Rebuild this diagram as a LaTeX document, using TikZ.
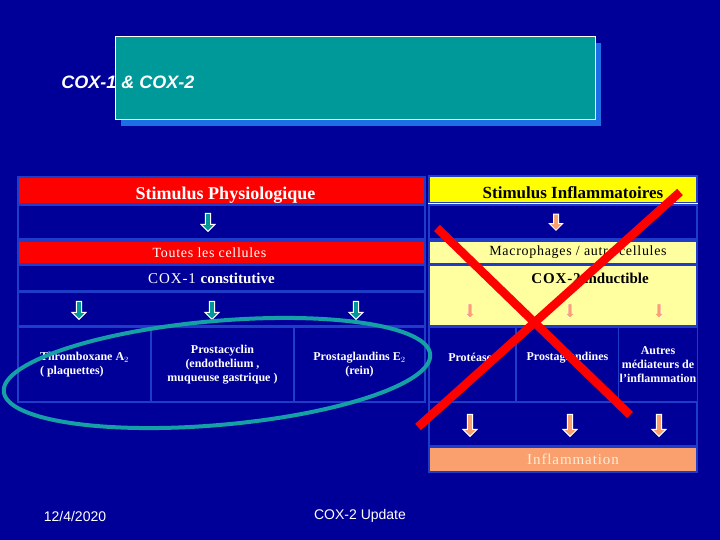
\documentclass[tikz,border=0pt]{standalone}
\usepackage{fontspec}
\setmainfont{Liberation Serif}
\setsansfont{Liberation Sans}
\usepackage{tikz}
\usetikzlibrary{positioning,shapes.arrows,shapes.geometric}
\definecolor{fond}{RGB}{0,0,153}
\definecolor{cadre}{RGB}{30,60,200}
\definecolor{rouge}{RGB}{255,0,0}
\definecolor{jaune}{RGB}{255,255,0}
\definecolor{jaunepale}{RGB}{255,255,160}
\definecolor{saumon}{RGB}{250,160,110}
\definecolor{sarcelle}{RGB}{0,153,153}
\definecolor{ombre}{RGB}{30,110,230}
\definecolor{anneau}{RGB}{20,160,165}
\definecolor{peche}{RGB}{255,235,215}

\begin{document}
\begin{tikzpicture}[
    x=1pt, y=-1pt,
    font=\normalfont,
    case/.style={
		rectangle,
		draw=cadre,
		line width=1.5pt,
		inner sep=1pt,
		align=center,
		fill=fond,
		text=white
	},
	bandrouge/.style={
		case,
		fill=rouge,
		text=white
	},
	bandjaune/.style={
		case,
		fill=jaunepale,
		text=black
	},
	cellule/.style={
		case,
		minimum height=75pt,
		font=\fontsize{12}{14}\selectfont\bfseries
	},
	fleche/.style={
		single arrow,
		shape border rotate=270,
		draw=white,
		line width=1pt,
		fill=sarcelle,
		inner sep=2pt,
		minimum height=18pt,
		minimum width=14pt,
		single arrow head extend=4pt
	},
	flecherose/.style={
		fleche,
		fill=saumon
	},
	petitefleche/.style={
		fleche,
		fill=saumon,
		line width=0.4pt,
		inner sep=1.5pt,
		minimum height=14pt,
		minimum width=9pt,
		single arrow head extend=2.5pt
	},
	croix/.style={
		draw=rouge,
		line width=8.5pt
	},
	pied/.style={
		font=\sffamily\fontsize{14}{16}\selectfont,
		text=white
	}
  ]

% // background
\fill[fond] (0,0) rectangle (720,540);
\useasboundingbox (0,0) rectangle (720,540);

% // title
\fill[ombre] (121,43) rectangle (601,126);
\node [rectangle, draw=white, line width=1pt, fill=sarcelle,
minimum width=480pt, minimum height=83pt] (boite) at (355,78.5) {};
\node [text=white, font=\sffamily\bfseries\itshape\fontsize{18}{20}\selectfont] (titre) at (128,82) {COX-1 \& COX-2};

% // COX-1 side
\node [bandrouge, minimum width=407pt, minimum height=27pt,
font=\fontsize{18}{20}\selectfont\bfseries] (stimP) at (221.5,190.5)
{\hspace*{8pt}\raisebox{-5pt}[\height][\depth]{Stimulus Physiologique}};
\node [case, minimum width=407pt, minimum height=34pt] (passeP) at (221.5,222) {};
\node [bandrouge, minimum width=407pt, minimum height=23pt,
font=\fontsize{14}{16}\selectfont\addfontfeatures{LetterSpace=5}] (toutes) at (221.5,252.5)
{\hspace*{-24pt}Toutes les cellules};
\node [case, minimum width=407pt, minimum height=26pt,
font=\fontsize{15}{17}\selectfont] (cox1) at (221.5,278)
{\hspace*{-20pt}{\addfontfeatures{LetterSpace=6}COX-1} \textbf{constitutive}};
\node [case, minimum width=407pt, minimum height=34pt] (passeP2) at (221.5,309) {};

\node [cellule, minimum width=133pt, align=left] (thromb) at (84.5,364.5) {Thromboxane A$_2$\\( plaquettes)};
\node [cellule, minimum width=143pt] (prostacyc) at (222.5,364.5) {Prostacyclin\\(endothelium ,\\muqueuse gastrique )};
\node [cellule, minimum width=131pt] (prostaE) at (359.5,364.5) {Prostaglandins E$_2$\\(rein)};

\node [fleche] (f1) at (208,221) {};
\node [fleche] (f2) at (79,309) {};
\node [fleche] (f3) at (212,309) {};
\node [fleche] (f4) at (356,309) {};

% // COX-2 side
\node [case, fill=jaune, text=black, minimum width=268pt, minimum height=27pt,
font=\fontsize{17}{19}\selectfont\bfseries] (stimI) at (563,189.5)
{\hspace*{20pt}\raisebox{-3pt}[\height][\depth]{Stimulus Inflammatoires}};
\draw [white, line width=1.5pt] (stimI.south west) -- (stimI.south east);
\node [case, minimum width=268pt, minimum height=34pt] (passeI) at (563,222) {};
\node [bandjaune, minimum width=268pt, minimum height=23pt,
font=\fontsize{14}{16}\selectfont\addfontfeatures{LetterSpace=5}] (macro) at (563,252.5)
{\hspace*{30pt}Macrophages / autre cellules};
\node [bandjaune, minimum width=268pt, minimum height=61pt] (cox2) at (563,295.5) {};
\node [text=black, font=\fontsize{15}{17}\selectfont\bfseries] (cox2txt) at (590,278) {{\addfontfeatures{LetterSpace=6}COX-2} inductible};

\node [cellule, minimum width=87pt] (proteases) at (472.5,364.5) {\raisebox{7pt}[\height][\depth]{Protéases}};
\node [cellule, minimum width=103pt] (prostaI) at (567.5,364.5) {\raisebox{7pt}[\height][\depth]{Prostaglandines}};
\node [cellule, minimum width=78pt] (autres) at (658,364.5) {Autres\\médiateurs de\\l’inflammation};
\node [case, minimum width=268pt, minimum height=44pt] (passeI2) at (563,424) {};
\node [case, fill=saumon, text=peche, minimum width=268pt, minimum height=25pt,
font=\fontsize{15}{17}\selectfont\addfontfeatures{LetterSpace=6}] (inflam) at (563,459.5)
{\hspace*{20pt}Inflammation};

\node [flecherose, minimum height=16pt, minimum width=12pt] (g1) at (556,221) {};
\node [petitefleche] (g2) at (470,310) {};
\node [petitefleche] (g3) at (570,310) {};
\node [petitefleche] (g4) at (659,310) {};
\node [flecherose, minimum height=22pt] (g5) at (470,424) {};
\node [flecherose, minimum height=22pt] (g6) at (570,424) {};
\node [flecherose, minimum height=22pt] (g7) at (659,424) {};

% // the ring round COX-1 products
\draw [anneau, line width=4pt, rotate around={5:(217,373)}] (217,373) ellipse [x radius=214pt, y radius=52pt];

% // the cross over COX-2
\coordinate (xa) at (437,228);
\coordinate (xb) at (630,415);
\coordinate (xc) at (680,192);
\coordinate (xd) at (418,427);
\draw [croix] (xa) -- (xb);
\draw [croix] (xc) -- (xd);

% // footer
\node [pied] (date) at (75,516) {12/4/2020};
\node [pied] (sujet) at (360,516) {COX-2 Update};

\end{tikzpicture}
\end{document}
